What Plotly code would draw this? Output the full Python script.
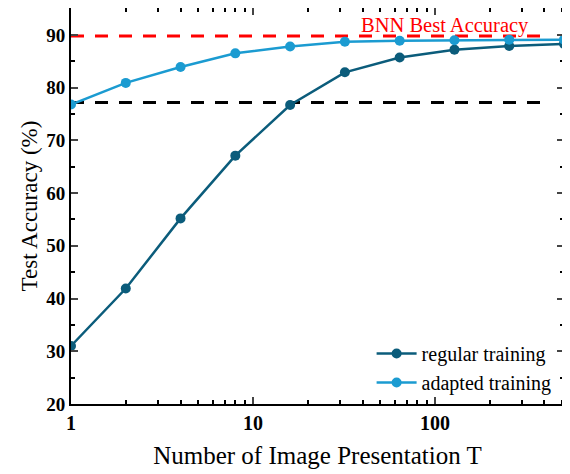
import plotly.graph_objects as go

T = [1, 2, 4, 8, 16, 32, 64, 128, 256, 512]
regular = [31.0, 41.9, 55.2, 67.1, 76.7, 82.9, 85.7, 87.2, 87.9, 88.3]
adapted = [76.8, 80.9, 83.9, 86.5, 87.8, 88.7, 88.9, 89.0, 89.1, 89.1]
bnn_best = 89.8
ref_level = 77.2
line_x = [1, 425]

serif = "Liberation Serif"
c_reg = "#0b5c7b"
c_ada = "#1b9bd1"

fig = go.Figure()
fig.add_trace(go.Scatter(x=line_x, y=[bnn_best] * 2, mode="lines",
                         line=dict(color="#ff0000", width=3, dash="13px,11px"),
                         showlegend=False, hoverinfo="skip"))
fig.add_trace(go.Scatter(x=line_x, y=[ref_level] * 2, mode="lines",
                         line=dict(color="#000000", width=3, dash="13px,11px"),
                         showlegend=False, hoverinfo="skip"))
fig.add_trace(go.Scatter(x=T, y=regular, mode="lines+markers", name="regular training",
                         line=dict(color=c_reg, width=2.5), marker=dict(size=10, color=c_reg)))
fig.add_trace(go.Scatter(x=T, y=adapted, mode="lines+markers", name="adapted training",
                         line=dict(color=c_ada, width=2.5), marker=dict(size=10, color=c_ada)))

fig.add_annotation(x=2.055, y=bnn_best, xref="x", yref="y", text="BNN Best Accuracy",
                   showarrow=False, yanchor="bottom", yshift=-3,
                   font=dict(family=serif, size=20.5, color="#ff0000"))

minor_x = [2, 3, 4, 5, 6, 7, 8, 9, 20, 30, 40, 50, 60, 70, 80, 90, 200, 300, 400, 500]
fig.update_xaxes(type="log", range=[0, 2.7093], tickmode="array", tickvals=[1, 10, 100],
                 ticktext=["1", "10", "100"], ticks="inside", ticklen=7, tickwidth=2,
                 showline=True, linecolor="black", linewidth=2, mirror="ticks",
                 showgrid=False, zeroline=False, automargin=False,
                 minor=dict(tickmode="array", tickvals=minor_x, ticks="inside", ticklen=4,
                            tickwidth=1.5, tickcolor="black", showgrid=False),
                 tickfont=dict(family=serif, size=20, color="black", weight="bold"),
                 title=dict(text="Number of Image Presentation T", standoff=13,
                            font=dict(family=serif, size=25, color="black")))
fig.update_yaxes(range=[20, 95.1], tickmode="array", tickvals=[20, 30, 40, 50, 60, 70, 80, 90],
                 ticks="inside", ticklen=7, tickwidth=2,
                 showline=True, linecolor="black", linewidth=2, mirror="ticks",
                 showgrid=False, zeroline=False, automargin=False,
                 minor=dict(tickmode="array", tickvals=[25, 35, 45, 55, 65, 75, 85, 95],
                            ticks="inside", ticklen=4, tickwidth=1.5, tickcolor="black",
                            showgrid=False),
                 tickfont=dict(family=serif, size=19, color="black", weight="bold"),
                 title=dict(text="Test Accuracy (%)", standoff=2,
                            font=dict(family=serif, size=23, color="black")))

fig.update_layout(width=570, height=474, margin=dict(l=63, r=14, t=0, b=78, autoexpand=False),
                  paper_bgcolor="white", plot_bgcolor="white",
                  legend=dict(x=0.985, y=0.005, xanchor="right", yanchor="bottom",
                              bgcolor="rgba(0,0,0,0)", tracegroupgap=0, itemwidth=40,
                              font=dict(family=serif, size=20, color="black")))

fig.write_html("out.html")
